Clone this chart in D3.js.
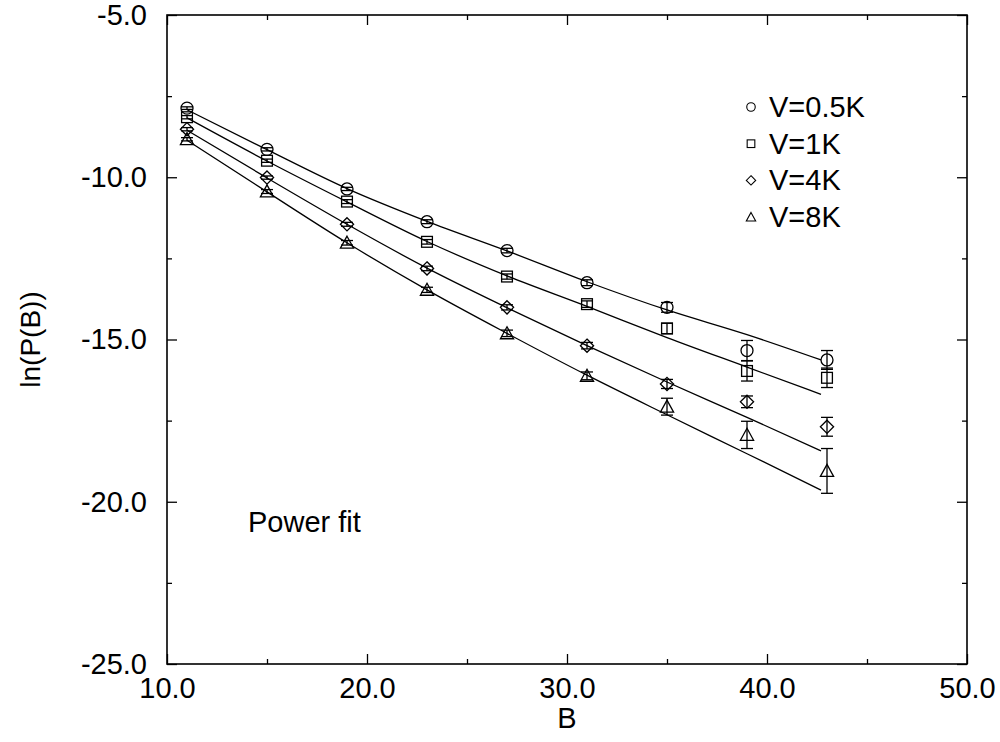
<!DOCTYPE html>
<html><head><meta charset="utf-8">
<script src="https://cdn.jsdelivr.net/npm/d3@7"></script>
<style>body{margin:0;background:#fff}svg{display:block}text{font-family:"Liberation Sans",Arial,sans-serif;fill:#000}</style>
</head><body><svg id="c" width="1000" height="742"></svg>
<script>
const B = [11, 15, 19, 23, 27, 31, 35, 39, 43];
const v05 = [-7.87, -9.14, -10.36, -11.37, -12.26, -13.25, -14.01, -15.34, -15.63];
const v1  = [-8.15, -9.49, -10.75, -11.99, -13.06, -13.91, -14.66, -15.97, -16.18];
const v4  = [-8.52, -10.01, -11.45, -12.81, -14.01, -15.19, -16.37, -16.92, -17.69];
const v8  = [-8.83, -10.44, -12.02, -13.47, -14.81, -16.12, -17.07, -17.94, -19.05];
const e05 = [0.04, 0.05, 0.05, 0.06, 0.07, 0.09, 0.15, 0.31, 0.29];
const e1  = [0.05, 0.05, 0.06, 0.07, 0.08, 0.10, 0.16, 0.31, 0.30];
const e4  = [0.05, 0.05, 0.06, 0.07, 0.08, 0.10, 0.14, 0.18, 0.29];
const e8  = [0.05, 0.06, 0.07, 0.08, 0.10, 0.12, 0.26, 0.42, 0.69];
const fitB = [11, 15, 19, 23, 27, 31, 35, 39, 42.7];
const f05 = [-7.92, -9.15, -10.35, -11.36, -12.27, -13.22, -14.09, -14.85, -15.63];
const f1  = [-8.17, -9.50, -10.76, -11.98, -13.04, -13.98, -14.94, -15.85, -16.69];
const f4  = [-8.55, -10.02, -11.45, -12.80, -14.02, -15.19, -16.31, -17.40, -18.43];
const f8  = [-8.86, -10.45, -12.02, -13.47, -14.81, -16.10, -17.32, -18.52, -19.64];
const labels = ["V=0.5K", "V=1K", "V=4K", "V=8K"];
const shapes = ["circle", "square", "diamond", "triangle"];
const xTicks = [10, 20, 30, 40, 50];
const xMinor = [15, 25, 35, 45];
const yTicks = [-25, -20, -15, -10, -5];
const yMinor = [-22.5, -17.5, -12.5, -7.5];

const series = [
  {v: v05, e: e05, f: f05}, {v: v1, e: e1, f: f1},
  {v: v4, e: e4, f: f4}, {v: v8, e: e8, f: f8}
];

const svg = d3.select("#c");
const L = 167, R = 967, T = 15, Bt = 664;
const x = d3.scaleLinear().domain([10, 50]).range([L, R]);
const y = d3.scaleLinear().domain([-25, -5]).range([Bt, T]);
const fmt = d => d.toFixed(1);
const sw = 1.3;
const FS = "29px";

function styleAxis(g) {
  g.select(".domain").remove();
  g.selectAll("line").attr("stroke", "#000").attr("stroke-width", sw);
  g.selectAll("text").style("font-size", FS).attr("fill", "#000");
}
svg.append("g").attr("transform", `translate(0,${Bt})`)
  .call(d3.axisBottom(x).tickValues(xTicks).tickFormat(fmt).tickSizeInner(-10).tickSizeOuter(0).tickPadding(13))
  .call(styleAxis);
svg.append("g").attr("transform", `translate(${L},0)`)
  .call(d3.axisLeft(y).tickValues(yTicks).tickFormat(fmt).tickSizeInner(-10).tickSizeOuter(0).tickPadding(20))
  .call(styleAxis);
svg.append("g").attr("transform", `translate(0,${T})`)
  .call(d3.axisTop(x).tickValues(xTicks).tickFormat("").tickSizeInner(-10).tickSizeOuter(0)).call(styleAxis);
svg.append("g").attr("transform", `translate(${R},0)`)
  .call(d3.axisRight(y).tickValues(yTicks).tickFormat("").tickSizeInner(-10).tickSizeOuter(0)).call(styleAxis);
svg.append("g").attr("transform", `translate(0,${Bt})`)
  .call(d3.axisBottom(x).tickValues(xMinor).tickFormat("").tickSizeInner(-5).tickSizeOuter(0)).call(styleAxis);
svg.append("g").attr("transform", `translate(0,${T})`)
  .call(d3.axisTop(x).tickValues(xMinor).tickFormat("").tickSizeInner(-5).tickSizeOuter(0)).call(styleAxis);
svg.append("g").attr("transform", `translate(${L},0)`)
  .call(d3.axisLeft(y).tickValues(yMinor).tickFormat("").tickSizeInner(-5).tickSizeOuter(0)).call(styleAxis);
svg.append("g").attr("transform", `translate(${R},0)`)
  .call(d3.axisRight(y).tickValues(yMinor).tickFormat("").tickSizeInner(-5).tickSizeOuter(0)).call(styleAxis);

svg.append("rect").attr("x", L).attr("y", T).attr("width", R - L).attr("height", Bt - T)
  .attr("fill", "none").attr("stroke", "#000").attr("stroke-width", 1.6);

svg.append("text").attr("x", x(30)).attr("y", 728).attr("text-anchor", "middle").style("font-size", FS).text("B");
svg.append("text").attr("transform", `translate(40,${y(-15)}) rotate(-90)`).attr("text-anchor", "middle")
  .style("font-size", "28px").text("ln(P(B))");
svg.append("text").attr("x", 248).attr("y", 532).style("font-size", FS).text("Power fit");

function marker(g, shape, cx, cy, s) {
  if (shape === "circle") g.append("circle").attr("cx", cx).attr("cy", cy).attr("r", s * 0.5);
  else if (shape === "square") g.append("rect").attr("x", cx - s * 0.45).attr("y", cy - s * 0.45).attr("width", s * 0.9).attr("height", s * 0.9);
  else if (shape === "diamond") g.append("path").attr("d", `M${cx},${cy - s * 0.55}L${cx + s * 0.55},${cy}L${cx},${cy + s * 0.55}L${cx - s * 0.55},${cy}Z`);
  else g.append("path").attr("d", `M${cx},${cy - s * 0.55}L${cx + s * 0.55},${cy + s * 0.45}L${cx - s * 0.55},${cy + s * 0.45}Z`);
}

const line = d3.line().x((d, i) => x(fitB[i])).y(d => y(d)).curve(d3.curveMonotoneX);
series.forEach((s, k) => {
  svg.append("path").datum(s.f).attr("d", line).attr("fill", "none").attr("stroke", "#000").attr("stroke-width", sw);
  const g = svg.append("g").attr("fill", "none").attr("stroke", "#000").attr("stroke-width", sw);
  s.v.forEach((v, i) => {
    const cx = x(B[i]), cy = y(v), y1 = y(v + s.e[i]), y2 = y(v - s.e[i]);
    g.append("line").attr("x1", cx).attr("x2", cx).attr("y1", y1).attr("y2", y2);
    g.append("line").attr("x1", cx - 6).attr("x2", cx + 6).attr("y1", y1).attr("y2", y1);
    g.append("line").attr("x1", cx - 6).attr("x2", cx + 6).attr("y1", y2).attr("y2", y2);
    marker(g, shapes[k], cx, cy, 12);
  });
  const ly = 107 + k * 36.7;
  const lg = svg.append("g").attr("fill", "none").attr("stroke", "#000").attr("stroke-width", 1.1);
  marker(lg, shapes[k], 751, ly, 8.5);
  svg.append("text").attr("x", 769).attr("y", ly + 10).style("font-size", FS).text(labels[k]);
});
</script></body></html>
